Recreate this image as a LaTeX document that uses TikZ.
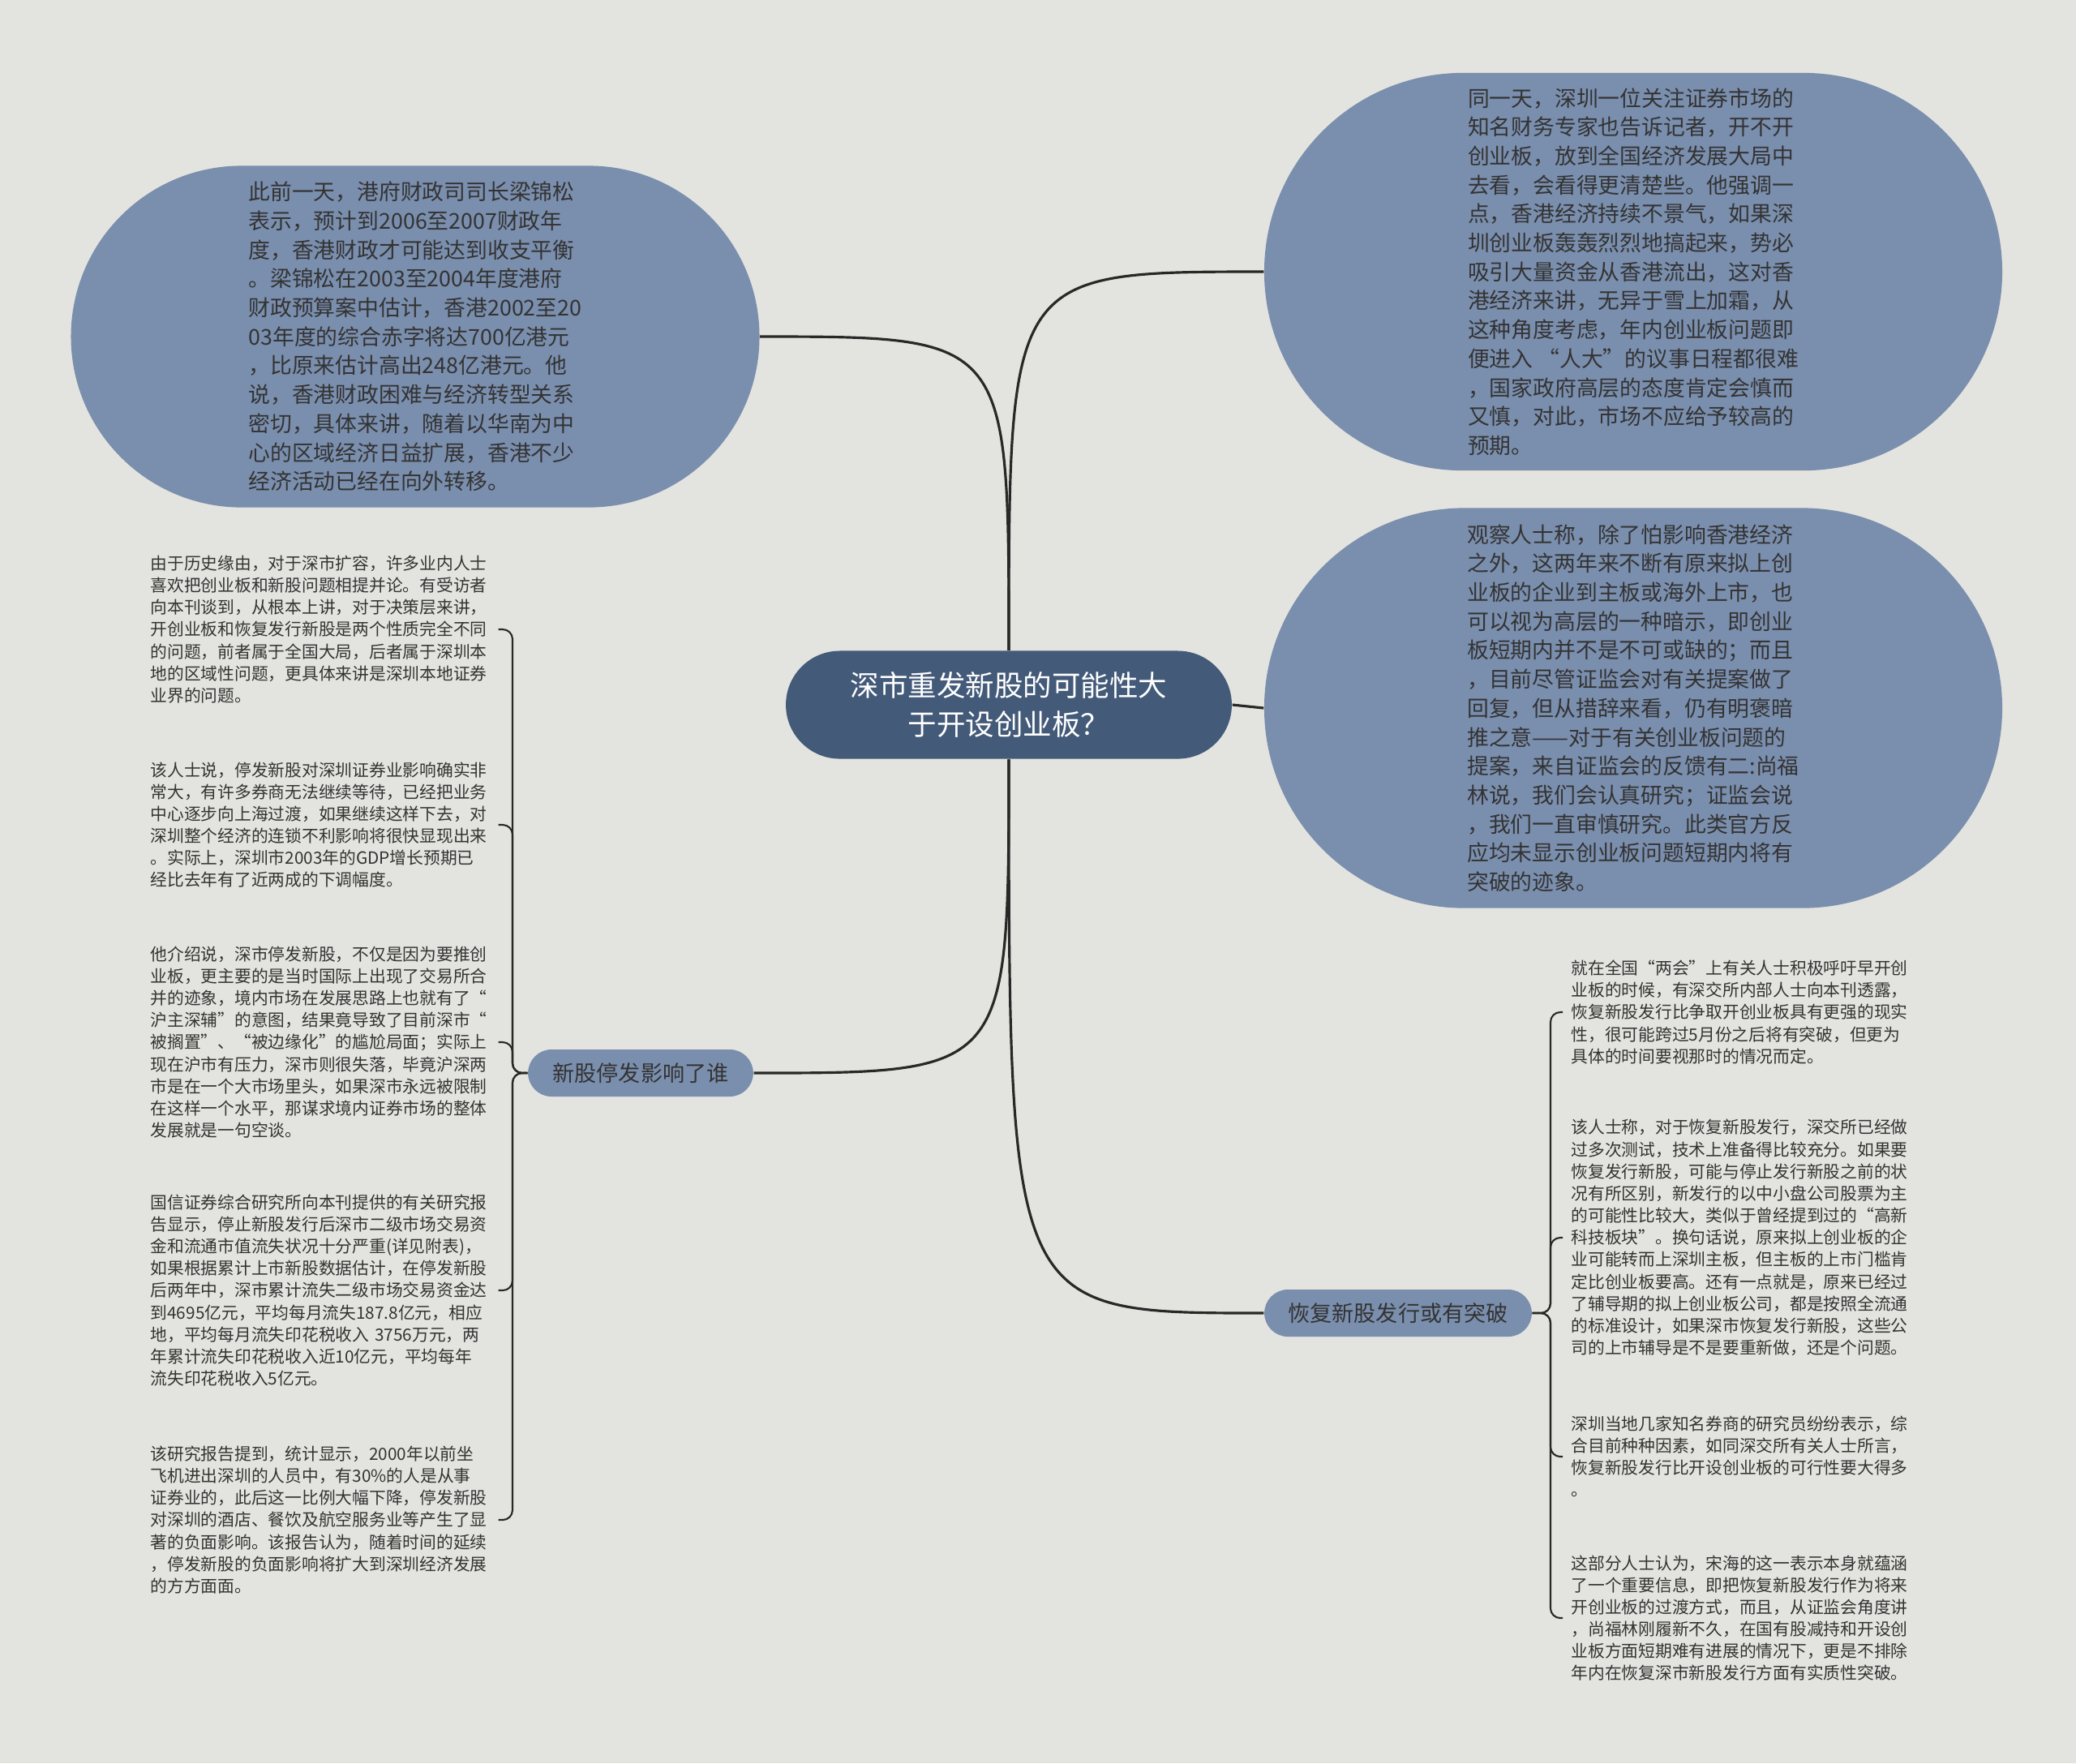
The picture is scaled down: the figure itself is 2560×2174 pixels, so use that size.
\documentclass[tikz,border=0pt]{standalone}
\usepackage{fontspec}
\setmainfont{Noto Sans CJK SC}
\usetikzlibrary{shapes.misc}
\definecolor{bgpaper}{RGB}{227,228,223}
\definecolor{rootblue}{RGB}{67,90,121}
\definecolor{bubblue}{RGB}{122,142,173}
\definecolor{inkgray}{RGB}{51,51,51}
\definecolor{wiregray}{RGB}{40,40,40}
\tikzset{
  root/.style  ={rounded rectangle, fill=rootblue, text=white, align=center,
                 font=\fontsize{10.1}{13.5}\selectfont, minimum width=5.73cm, minimum height=1.33cm},
  bubble/.style={rounded rectangle, fill=bubblue, text=inkgray, align=left,
                 font=\fontsize{7.62}{10.15}\selectfont},
  topic/.style ={rounded rectangle, fill=bubblue, text=inkgray,
                 font=\fontsize{7.7}{9}\selectfont, minimum height=0.58cm},
  leaf/.style  ={text=inkgray, align=left, text width=4.18cm, inner xsep=0.1cm,
                 font=\fontsize{5.9}{7.72}\selectfont},
  wire/.style  ={draw=wiregray, line width=0.9pt},
  brace/.style ={draw=wiregray, line width=0.6pt, rounded corners=0.12cm},
}

\begin{document}
\begin{tikzpicture}[x=0.01cm, y=-0.01cm]
\fill[bgpaper] (0,0) rectangle (2560,2174);

\node[root] (hub) at (1244,869) {深市重发新股的可能性大\\于开设创业板？};

\node[bubble, minimum width=8.72cm, minimum height=4.21cm] (hk) at (512,415)
  {此前一天，港府财政司司长梁锦松\\表示，预计到2006至2007财政年\\度，香港财政才可能达到收支平衡\\。梁锦松在2003至2004年度港府\\财政预算案中估计，香港2002至20\\03年度的综合赤字将达700亿港元\\，比原来估计高出248亿港元。他\\说，香港财政困难与经济转型关系\\密切，具体来讲，随着以华南为中\\心的区域经济日益扩展，香港不少\\经济活动已经在向外转移。};
\node[bubble, minimum width=9.33cm, minimum height=4.90cm] (exp) at (2014,335)
  {同一天，深圳一位关注证券市场的\\知名财务专家也告诉记者，开不开\\创业板，放到全国经济发展大局中\\去看，会看得更清楚些。他强调一\\点，香港经济持续不景气，如果深\\圳创业板轰轰烈烈地搞起来，势必\\吸引大量资金从香港流出，这对香\\港经济来讲，无异于雪上加霜，从\\这种角度考虑，年内创业板问题即\\便进入 “人大”的议事日程都很难\\，国家政府高层的态度肯定会慎而\\又慎，对此，市场不应给予较高的\\预期。};
\node[bubble, minimum width=9.33cm, minimum height=4.93cm] (obs) at (2014,873)
  {观察人士称，除了怕影响香港经济\\之外，这两年来不断有原来拟上创\\业板的企业到主板或海外上市，也\\可以视为高层的一种暗示，即创业\\板短期内并不是不可或缺的；而且\\，目前尽管证监会对有关提案做了\\回复，但从措辞来看，仍有明褒暗\\推之意——对于有关创业板问题的\\提案，来自证监会的反馈有二:尚福\\林说，我们会认真研究；证监会说\\，我们一直审慎研究。此类官方反\\应均未显示创业板问题短期内将有\\突破的迹象。};

\node[topic, minimum width=3.01cm] (who) at (790,1323) {新股停发影响了谁};
\node[topic, minimum width=3.53cm] (way) at (1724,1619) {恢复新股发行或有突破};

\node[leaf, anchor=west] (l1) at (175,776)
  {由于历史缘由，对于深市扩容，许多业内人士\\喜欢把创业板和新股问题相提并论。有受访者\\向本刊谈到，从根本上讲，对于决策层来讲，\\开创业板和恢复发行新股是两个性质完全不同\\的问题，前者属于全国大局，后者属于深圳本\\地的区域性问题，更具体来讲是深圳本地证券\\业界的问题。};
\node[leaf, anchor=west] (l2) at (175,1017)
  {该人士说，停发新股对深圳证券业影响确实非\\常大，有许多券商无法继续等待，已经把业务\\中心逐步向上海过渡，如果继续这样下去，对\\深圳整个经济的连锁不利影响将很快显现出来\\。实际上，深圳市2003年的GDP增长预期已\\经比去年有了近两成的下调幅度。};
\node[leaf, anchor=west] (l3) at (175,1285)
  {他介绍说，深市停发新股，不仅是因为要推创\\业板，更主要的是当时国际上出现了交易所合\\并的迹象，境内市场在发展思路上也就有了“\\沪主深辅”的意图，结果竟导致了目前深市“\\被搁置”、“被边缘化”的尴尬局面；实际上\\现在沪市有压力，深市则很失落，毕竟沪深两\\市是在一个大市场里头，如果深市永远被限制\\在这样一个水平，那谋求境内证券市场的整体\\发展就是一句空谈。};
\node[leaf, anchor=west] (l4) at (175,1591)
  {国信证券综合研究所向本刊提供的有关研究报\\告显示，停止新股发行后深市二级市场交易资\\金和流通市值流失状况十分严重(详见附表)，\\如果根据累计上市新股数据估计，在停发新股\\后两年中，深市累计流失二级市场交易资金达\\到4695亿元，平均每月流失187.8亿元，相应\\地，平均每月流失印花税收入 3756万元，两\\年累计流失印花税收入近10亿元，平均每年\\流失印花税收入5亿元。};
\node[leaf, anchor=west] (l5) at (175,1874)
  {该研究报告提到，统计显示，2000年以前坐\\飞机进出深圳的人员中，有30\%的人是从事\\证券业的，此后这一比例大幅下降，停发新股\\对深圳的酒店、餐饮及航空服务业等产生了显\\著的负面影响。该报告认为，随着时间的延续\\，停发新股的负面影响将扩大到深圳经济发展\\的方方面面。};

\node[leaf, anchor=west] (r1) at (1927,1248)
  {就在全国“两会”上有关人士积极呼吁早开创\\业板的时候，有深交所内部人士向本刊透露，\\恢复新股发行比争取开创业板具有更强的现实\\性，很可能跨过5月份之后将有突破，但更为\\具体的时间要视那时的情况而定。};
\node[leaf, anchor=west] (r2) at (1927,1526)
  {该人士称，对于恢复新股发行，深交所已经做\\过多次测试，技术上准备得比较充分。如果要\\恢复发行新股，可能与停止发行新股之前的状\\况有所区别，新发行的以中小盘公司股票为主\\的可能性比较大，类似于曾经提到过的“高新\\科技板块”。换句话说，原来拟上创业板的企\\业可能转而上深圳主板，但主板的上市门槛肯\\定比创业板要高。还有一点就是，原来已经过\\了辅导期的拟上创业板公司，都是按照全流通\\的标准设计，如果深市恢复发行新股，这些公\\司的上市辅导是不是要重新做，还是个问题。};
\node[leaf, anchor=west] (r3) at (1927,1796)
  {深圳当地几家知名券商的研究员纷纷表示，综\\合目前种种因素，如同深交所有关人士所言，\\恢复新股发行比开设创业板的可行性要大得多\\。};
\node[leaf, anchor=west] (r4) at (1927,1995)
  {这部分人士认为，宋海的这一表示本身就蕴涵\\了一个重要信息，即把恢复新股发行作为将来\\开创业板的过渡方式，而且，从证监会角度讲\\，尚福林刚履新不久，在国有股减持和开设创\\业板方面短期难有进展的情况下，更是不排除\\年内在恢复深市新股发行方面有实质性突破。};

\draw[wire] (hub.north) .. controls (1244,415) .. (hk.east);
\draw[wire] (hub.north) .. controls (1244,335) .. (exp.west);
\draw[wire] (hub.east) -- (obs.west);
\draw[wire] (hub.south) .. controls (1244,1323) .. (who.east);
\draw[wire] (hub.south) .. controls (1244,1619) .. (way.west);

\coordinate (whob) at (632,1323);
\coordinate (wayb) at (1912,1619);
\foreach \c in {l1,l2,l3,l4,l5} \draw[brace] (who.west) -- (whob) |- (\c.east);
\foreach \c in {r1,r2,r3,r4} \draw[brace] (way.east) -- (wayb) |- (\c.west);
\end{tikzpicture}
\end{document}
